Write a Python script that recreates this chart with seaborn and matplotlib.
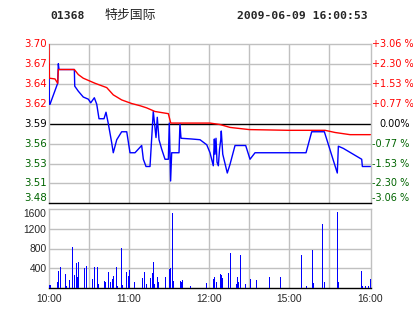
import matplotlib
matplotlib.use("Agg")
import matplotlib.pyplot as plt
import seaborn as sns

# ---------------- data ----------------
code = "01368"
name = "特步国际"
stamp = "2009-06-09 16:00:53"
base_price = 3.59
pct_max = 3.06

# trading minutes since 10:00 (12:30 and 14:30 coincide at 150)
price_t = [0, 0.3, 0.75, 6.5, 7, 7.5, 19, 19.3, 22, 25.7, 29.5, 31.3, 34, 35.8, 37.5,
           41.25, 42.75, 44.5, 47, 48.2, 50.8, 54.5, 58.3, 60.75, 64.5, 69.5, 70.75,
           72.75, 75.75, 78.2, 80.25, 81.2, 82.5, 84.5, 87, 89.5, 90.2, 91.2, 92, 97.5,
           98.2, 99, 107, 113.25, 118.3, 120.75, 123.2, 124, 124.5, 125.25, 126, 127,
           127.9, 128.8, 129.2, 130.3, 133.7, 135.75, 139.5, 147.5, 150.75, 154.5,
           192.75, 197, 206.5, 216.2, 217, 220.75, 234.5, 235, 241]
price_v = [3.673, 3.617, 3.617, 3.646, 3.673, 3.665, 3.665, 3.642, 3.635, 3.627, 3.624,
           3.619, 3.626, 3.617, 3.597, 3.597, 3.606, 3.590, 3.564, 3.550, 3.568, 3.579,
           3.579, 3.550, 3.550, 3.560, 3.541, 3.531, 3.531, 3.607, 3.571, 3.599, 3.568,
           3.555, 3.541, 3.541, 3.591, 3.511, 3.550, 3.550, 3.590, 3.570, 3.569, 3.568,
           3.561, 3.550, 3.532, 3.569, 3.548, 3.570, 3.537, 3.532, 3.555, 3.568, 3.580,
           3.548, 3.522, 3.534, 3.560, 3.560, 3.541, 3.550, 3.550, 3.579, 3.579, 3.522,
           3.559, 3.556, 3.541, 3.531, 3.531]

avg_t = [0, 0.3, 4.5, 6.5, 7, 19, 22, 25.7, 34.5, 43.3, 48.2, 54.5, 62, 68.25, 73.25,
         79.5, 89.5, 91.3, 120.75, 128.25, 135.75, 150.2, 179.5, 207, 214.5, 225.75, 241]
avg_v = [3.700, 3.653, 3.652, 3.646, 3.665, 3.665, 3.658, 3.653, 3.646, 3.640, 3.630,
         3.623, 3.618, 3.615, 3.612, 3.607, 3.604, 3.591, 3.591, 3.589, 3.585, 3.582,
         3.581, 3.581, 3.578, 3.575, 3.575]

vol_t = [0, 1, 6, 7, 8, 12, 13, 15, 17, 19, 20, 21, 22, 26, 28, 32, 34, 36, 37, 41, 42,
         44, 46, 47, 48, 50, 51, 54, 55, 58, 59, 60, 64, 70, 71, 73, 76, 77, 78, 79, 81,
         82, 87, 90, 91, 92, 93, 98, 99, 100, 106, 118, 123, 124, 125, 128, 129, 130,
         134, 136, 140, 141, 142, 143, 147, 151, 155, 165, 173, 189, 193, 197, 198, 205,
         206, 216, 217, 234, 235, 237, 239, 240.5]
vol_v = [50, 50, 110, 347, 420, 279, 40, 156, 830, 258, 496, 224, 523, 401, 442, 177,
         420, 420, 75, 136, 109, 320, 115, 177, 238, 420, 40, 810, 54, 320, 231, 367,
         115, 197, 320, 82, 197, 292, 523, 82, 218, 115, 218, 381, 401, 1523, 136, 136,
         115, 156, 40, 95, 177, 218, 115, 279, 258, 197, 299, 707, 75, 218, 115, 666, 75,
         177, 156, 218, 218, 666, 34, 768, 95, 1299, 115, 1544, 115, 340, 34, 34, 34, 177]

# price-axis labels, top to bottom
price_labels = ["3.70", "3.67", "3.64", "3.62", "3.59", "3.56", "3.53", "3.51", "3.48"]
pct_labels = ["+3.06 %", "+2.30 %", "+1.53 %", "+0.77 %", "0.00%",
              "-0.77 %", "-1.53 %", "-2.30 %", "-3.06 %"]
steps = [4, 3, 2, 1, 0, -1, -2, -3, -4]

time_ticks = [0, 60, 120, 180, 241]
time_labels = ["10:00", "11:00", "12:00", "15:00", "16:00"]
vol_ticks = [400, 800, 1200, 1600]
vol_labels = ["400", "800", "1200", "1600"]

# ---------------- style ----------------
sns.set_style("white")
plt.rcParams['font.family'] = ['DejaVu Sans']

W, H = 414, 314
fig = plt.figure(figsize=(W / 100, H / 100), dpi=100)


def rect(l, t, r, b):
    return [l / W, 1 - b / H, (r - l) / W, (b - t) / H]


ax = fig.add_axes(rect(49, 44.3, 370.7, 203.3))
axv = fig.add_axes(rect(49, 209.3, 370.7, 287.7))

GRID = '#c0c0c0'
RED = '#ff0000'
GREEN = '#006400'
xmax = 241.25
lo = base_price * (1 - pct_max / 100)
hi = base_price * (1 + pct_max / 100)
levels = [base_price * (1 + k * pct_max / 400) for k in steps]

for a in (ax, axv):
    a.set_xlim(0, xmax)
    for s in a.spines.values():
        s.set_color(GRID)
        s.set_linewidth(1)
    a.spines['bottom'].set_color('black')
    for xv in range(30, 240, 30):
        a.axvline(xv, color=GRID, lw=1, zorder=0)
    a.tick_params(length=0)

ax.set_ylim(lo, hi)
for lv, k in zip(levels, steps):
    if k == 0:
        ax.axhline(lv, color='black', lw=1, zorder=1)
    elif abs(k) < 4:
        ax.axhline(lv, color=GRID, lw=1, zorder=0)

sns.lineplot(x=price_t, y=price_v, ax=ax, color='#0000ff', lw=1,
             estimator=None, sort=False, zorder=3)
sns.lineplot(x=avg_t, y=avg_v, ax=ax, color=RED, lw=1,
             estimator=None, sort=False, zorder=4)
ax.set_xticks([])
ax.set_yticks([])

# left price labels & right percent labels
for lv, k, pl, tl in zip(levels, steps, price_labels, pct_labels):
    col = RED if k > 0 else ('black' if k == 0 else GREEN)
    dy = 3.6 if k == -4 else 0
    ax.annotate(pl, xy=(0, lv), xycoords=('axes fraction', 'data'),
                xytext=(-1.7, dy), textcoords='offset points', ha='right', va='center',
                color=col, fontsize=7.4, family='DejaVu Sans')
    dx = 6.0 if k == 0 else 0.8
    ax.annotate(tl, xy=(1, lv), xycoords=('axes fraction', 'data'),
                xytext=(dx, dy), textcoords='offset points', ha='left', va='center',
                color=col, fontsize=7.0, family='DejaVu Sans')

# volume
axv.set_ylim(0, 1600)
for v in vol_ticks[:-1]:
    axv.axhline(v, color=GRID, lw=1, zorder=0)
axv.vlines(vol_t, 0, vol_v, color='#0000ff', lw=0.72, zorder=3, antialiased=False)
axv.set_yticks(vol_ticks)
axv.set_yticklabels(vol_labels, family='Liberation Sans', fontsize=7.4)
axv.get_yticklabels()[-1].set_va('top')
axv.tick_params(axis='y', pad=1.7)
axv.set_xticks(time_ticks)
axv.set_xticklabels(time_labels, family='Liberation Sans', fontsize=7.4)
axv.tick_params(axis='x', pad=4.3)
axv.set_xlabel('')
axv.set_ylabel('')

# title
fig.text(50 / W, 1 - 16 / H, code, family='DejaVu Sans Mono', weight='bold',
         fontsize=8.2, va='center', ha='left')
fig.text(105 / W, 1 - 15.5 / H, name, family=['Noto Sans CJK SC', 'DejaVu Sans'],
         fontsize=9.3, va='center', ha='left')
fig.text(237 / W, 1 - 16 / H, stamp, family='DejaVu Sans Mono', weight='bold',
         fontsize=8.2, va='center', ha='left')

fig.savefig('out.png', dpi=100)
